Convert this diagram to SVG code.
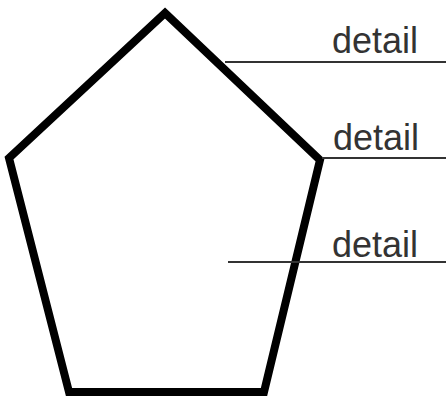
<svg xmlns="http://www.w3.org/2000/svg" width="446" height="398" viewBox="0 0 446 398">
<style>
.shape{fill:#fff;stroke:#000;stroke-width:8;stroke-linejoin:miter}
.lead{stroke:#333;stroke-width:2;fill:none}
.lbl{font-family:"Liberation Sans",Arial,sans-serif;font-size:36px;fill:#333}
</style>
<rect width="446" height="398" fill="#fff"/>
<g id="pentagon">
<polygon class="shape" points="165,13 320,160 264,392 69,392 9,158"/>
</g>
<g id="connectors">
<line class="lead" x1="225" y1="62" x2="446" y2="62"/>
<line class="lead" x1="322" y1="158" x2="446" y2="158"/>
<line class="lead" x1="228" y1="262" x2="446" y2="262"/>
</g>
<g id="label1"><text class="lbl" x="332" y="53">detail</text></g>
<g id="label2"><text class="lbl" x="333" y="150">detail</text></g>
<g id="label3"><text class="lbl" x="332" y="257">detail</text></g>
</svg>
